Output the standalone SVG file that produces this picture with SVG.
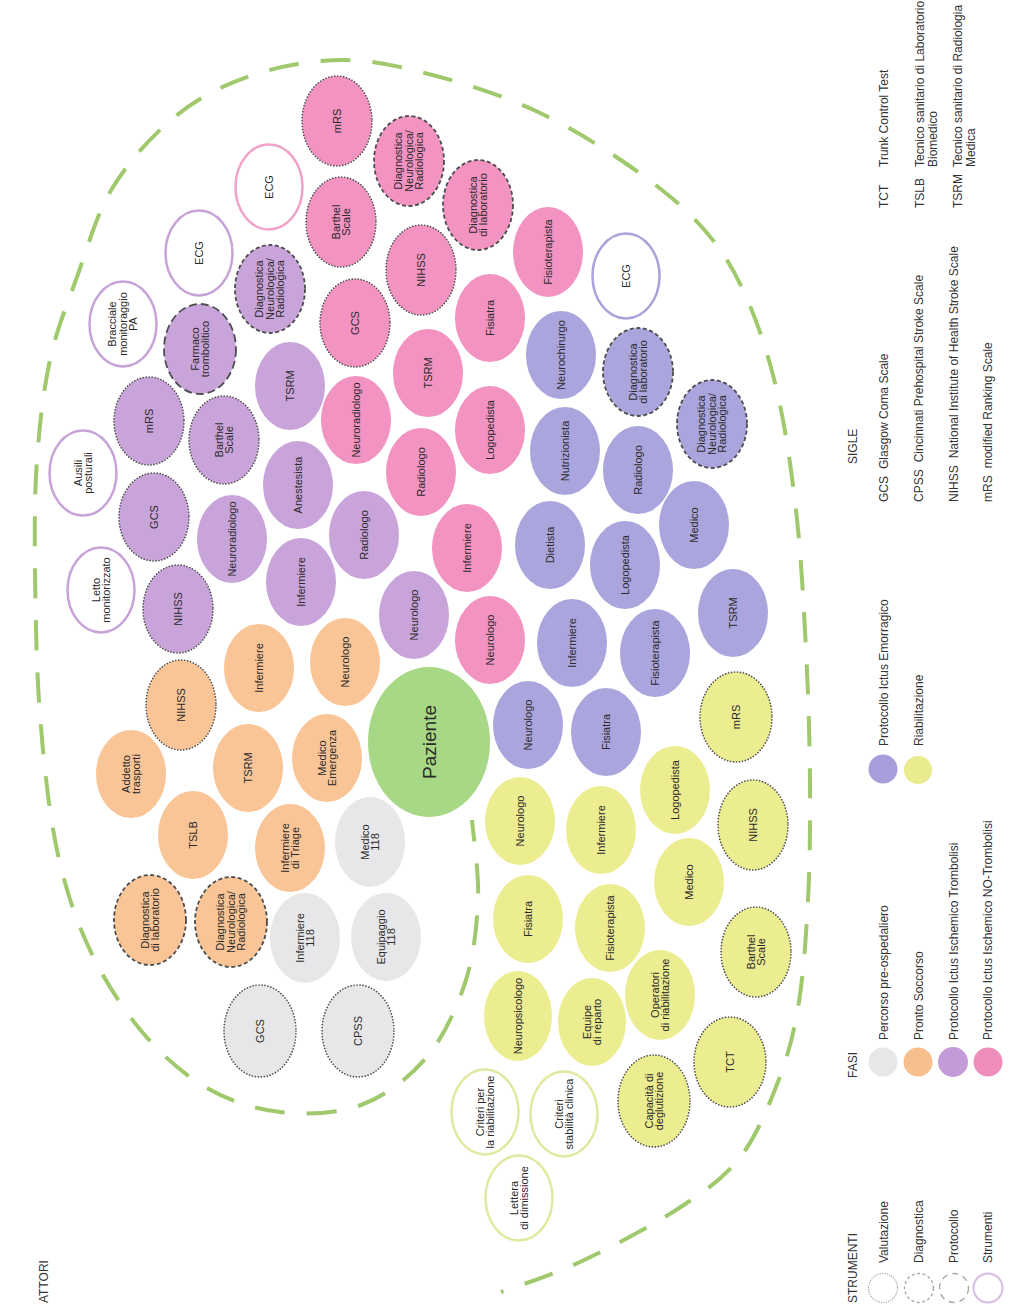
<svg xmlns="http://www.w3.org/2000/svg" width="1014" height="1306" viewBox="0 0 1014 1306">
<style>
  .lbl { font-family: "Liberation Sans", Arial, sans-serif; font-size: 11px; fill: #2a2a2a; text-anchor: middle; }
  .big { font-size: 19px; }
  .leg { font-family: "Liberation Sans", Arial, sans-serif; font-size: 12px; fill: #333; }
  .pk { fill: #f293c2; }
  .pu { fill: #c9a4da; }
  .lv { fill: #aba5de; }
  .or { fill: #f9c597; }
  .gr { fill: #e7e7e9; }
  .ye { fill: #ecec91; }
  .gn { fill: #a7d885; }
  .val { stroke: #4d4d4d; stroke-width: 1.7; stroke-dasharray: 0.01 3; stroke-linecap: round; }
  .dia { stroke: #4d4d4d; stroke-width: 1.8; stroke-dasharray: 4 2.6; }
  .pro { stroke: #4d4d4d; stroke-width: 1.8; stroke-dasharray: 8 4; }
  .out { fill: #ffffff; stroke-width: 2.5; }
  .o-pk { stroke: #f0a2c9; }
  .o-pu { stroke: #c8a3d9; }
  .o-lv { stroke: #a9a3dc; }
  .o-ye { stroke: #e2e89f; }
  .spiral { fill: none; stroke: #9fc96c; stroke-width: 4; stroke-dasharray: 30 22; stroke-dashoffset: 27; }
</style>

<rect width="1014" height="1306" fill="#ffffff"/>

<!-- dashed spiral boundary around the patient -->
<g id="boundary">
  <path class="spiral" d="M501,1292 C514.2,1287 550.8,1275.7 580,1262 S649.7,1227 676,1210 S721.3,1180.5 738,1160 S766,1112.3 776,1087 S792.7,1039.2 798,1008 S806,938 808,900 S810.3,821.7 810,780 S808.3,695 806,650 S801,553.8 796,510 S784.8,423.7 776,387 S755.7,317 743,290 S718.7,245.5 700,225 S658,185.8 631,167 S569.8,127 538,112 S472.2,85.7 440,77 S376.2,60.3 345,60 S281,65.8 253,75 S200.3,96.3 177,115 S129.7,160 113,187 S87.5,248.2 77,277 S56.7,329.5 50,360 S39.5,425 37,460 S34.5,527.5 35,570 S36.3,668.3 40,715 S48.7,810.8 57,850 S75.7,919.5 90,950 S123.5,1010 143,1033 S184.2,1074.8 207,1088 S254.3,1109.2 280,1112 S336.7,1114 361,1105 S408.7,1078.3 426,1058 S456.3,1009.3 465,983 S476.8,927.2 478,900 S473,833.3 472,820"/>
</g>

<!-- Protocollo Ictus Ischemico Trombolisi -->
<g id="p-nihss" transform="translate(178,609)"><ellipse class="pu val" rx="35" ry="44"/><text class="lbl" transform="rotate(-90)" y="3.8">NIHSS</text></g>
<g id="p-gcs" transform="translate(154,517)"><ellipse class="pu val" rx="35" ry="44"/><text class="lbl" transform="rotate(-90)" y="3.8">GCS</text></g>
<g id="p-mrs" transform="translate(149,421)"><ellipse class="pu val" rx="35" ry="44"/><text class="lbl" transform="rotate(-90)" y="3.8">mRS</text></g>
<g id="p-farmaco" transform="translate(200,349)"><ellipse class="pu pro" rx="36" ry="45"/><text class="lbl" transform="rotate(-90)"><tspan x="0" y="-1.45">Farmaco</tspan><tspan x="0" y="9.05">trombolitico</tspan></text></g>
<g id="p-diag" transform="translate(270,289)"><ellipse class="pu dia" rx="35" ry="44"/><text class="lbl" transform="rotate(-90)"><tspan x="0" y="-6.7">Diagnostica</tspan><tspan x="0" y="3.8">Neurologica/</tspan><tspan x="0" y="14.3">Radiologica</tspan></text></g>
<g id="p-ecg" transform="translate(199,253)"><ellipse class="out o-pu" rx="33.5" ry="42.5"/><text class="lbl" transform="rotate(-90)" y="3.8">ECG</text></g>
<g id="p-bracciale" transform="translate(123,324)"><ellipse class="out o-pu" rx="33.5" ry="42.5"/><text class="lbl" transform="rotate(-90)"><tspan x="0" y="-6.7">Bracciale</tspan><tspan x="0" y="3.8">monitoraggio</tspan><tspan x="0" y="14.3">PA</tspan></text></g>
<g id="p-ausili" transform="translate(83,473)"><ellipse class="out o-pu" rx="33.5" ry="42.5"/><text class="lbl" transform="rotate(-90)"><tspan x="0" y="-1.45">Ausili</tspan><tspan x="0" y="9.05">posturali</tspan></text></g>
<g id="p-letto" transform="translate(101,590)"><ellipse class="out o-pu" rx="33.5" ry="42.5"/><text class="lbl" transform="rotate(-90)"><tspan x="0" y="-1.45">Letto</tspan><tspan x="0" y="9.05">monitorizzato</tspan></text></g>
<g id="p-barthel" transform="translate(224,440)"><ellipse class="pu val" rx="35" ry="44"/><text class="lbl" transform="rotate(-90)"><tspan x="0" y="-1.45">Barthel</tspan><tspan x="0" y="9.05">Scale</tspan></text></g>
<g id="p-tsrm" transform="translate(290,386)"><ellipse class="pu" rx="35" ry="44"/><text class="lbl" transform="rotate(-90)" y="3.8">TSRM</text></g>
<g id="p-neurorad" transform="translate(232,539)"><ellipse class="pu" rx="35" ry="44"/><text class="lbl" transform="rotate(-90)" y="3.8">Neuroradiologo</text></g>
<g id="p-anest" transform="translate(298,485)"><ellipse class="pu" rx="35" ry="44"/><text class="lbl" transform="rotate(-90)" y="3.8">Anestesista</text></g>
<g id="p-inferm" transform="translate(301,582)"><ellipse class="pu" rx="35" ry="44"/><text class="lbl" transform="rotate(-90)" y="3.8">Infermiere</text></g>
<g id="p-radiol" transform="translate(364,535)"><ellipse class="pu" rx="35" ry="44"/><text class="lbl" transform="rotate(-90)" y="3.8">Radiologo</text></g>
<g id="p-neurol" transform="translate(414,615)"><ellipse class="pu" rx="35" ry="44"/><text class="lbl" transform="rotate(-90)" y="3.8">Neurologo</text></g>

<!-- Protocollo Ictus Ischemico NO-Trombolisi -->
<g id="k-mrs" transform="translate(337,121)"><ellipse class="pk val" rx="35" ry="45"/><text class="lbl" transform="rotate(-90)" y="3.8">mRS</text></g>
<g id="k-diagneuro" transform="translate(409,161)"><ellipse class="pk dia" rx="35" ry="45"/><text class="lbl" transform="rotate(-90)"><tspan x="0" y="-6.7">Diagnostica</tspan><tspan x="0" y="3.8">Neurologica/</tspan><tspan x="0" y="14.3">Radiologica</tspan></text></g>
<g id="k-barthel" transform="translate(341,222)"><ellipse class="pk val" rx="35" ry="45"/><text class="lbl" transform="rotate(-90)"><tspan x="0" y="-1.45">Barthel</tspan><tspan x="0" y="9.05">Scale</tspan></text></g>
<g id="k-diaglab" transform="translate(478,205)"><ellipse class="pk dia" rx="35" ry="45"/><text class="lbl" transform="rotate(-90)"><tspan x="0" y="-1.45">Diagnostica</tspan><tspan x="0" y="9.05">di laboratorio</tspan></text></g>
<g id="k-nihss" transform="translate(421,270)"><ellipse class="pk val" rx="35" ry="45"/><text class="lbl" transform="rotate(-90)" y="3.8">NIHSS</text></g>
<g id="k-fisiot" transform="translate(548,252)"><ellipse class="pk" rx="35" ry="45"/><text class="lbl" transform="rotate(-90)" y="3.8">Fisioterapista</text></g>
<g id="k-ecg" transform="translate(269,187)"><ellipse class="out o-pk" rx="33.5" ry="42.5"/><text class="lbl" transform="rotate(-90)" y="3.8">ECG</text></g>
<g id="k-gcs" transform="translate(355,323)"><ellipse class="pk val" rx="35" ry="44"/><text class="lbl" transform="rotate(-90)" y="3.8">GCS</text></g>
<g id="k-fisiatra" transform="translate(490,318)"><ellipse class="pk" rx="35" ry="44"/><text class="lbl" transform="rotate(-90)" y="3.8">Fisiatra</text></g>
<g id="k-tsrm" transform="translate(428,373)"><ellipse class="pk" rx="35" ry="44"/><text class="lbl" transform="rotate(-90)" y="3.8">TSRM</text></g>
<g id="k-neurorad" transform="translate(356,420)"><ellipse class="pk" rx="35" ry="44"/><text class="lbl" transform="rotate(-90)" y="3.8">Neuroradiologo</text></g>
<g id="k-logop" transform="translate(490,430)"><ellipse class="pk" rx="35" ry="44"/><text class="lbl" transform="rotate(-90)" y="3.8">Logopedista</text></g>
<g id="k-radiol" transform="translate(421,472)"><ellipse class="pk" rx="35" ry="44"/><text class="lbl" transform="rotate(-90)" y="3.8">Radiologo</text></g>
<g id="k-inferm" transform="translate(467,548)"><ellipse class="pk" rx="35" ry="44"/><text class="lbl" transform="rotate(-90)" y="3.8">Infermiere</text></g>
<g id="k-neurol" transform="translate(490,640)"><ellipse class="pk" rx="35" ry="44"/><text class="lbl" transform="rotate(-90)" y="3.8">Neurologo</text></g>

<!-- Protocollo Ictus Emorragico -->
<g id="l-neurochir" transform="translate(561,355)"><ellipse class="lv" rx="35" ry="44"/><text class="lbl" transform="rotate(-90)" y="3.8">Neurochirurgo</text></g>
<g id="l-diaglab" transform="translate(638,372)"><ellipse class="lv dia" rx="35" ry="44"/><text class="lbl" transform="rotate(-90)"><tspan x="0" y="-1.45">Diagnostica</tspan><tspan x="0" y="9.05">di laboratorio</tspan></text></g>
<g id="l-nutriz" transform="translate(565,451)"><ellipse class="lv" rx="35" ry="44"/><text class="lbl" transform="rotate(-90)" y="3.8">Nutrizionista</text></g>
<g id="l-radiol" transform="translate(638,470)"><ellipse class="lv" rx="35" ry="44"/><text class="lbl" transform="rotate(-90)" y="3.8">Radiologo</text></g>
<g id="l-dietista" transform="translate(550,545)"><ellipse class="lv" rx="35" ry="44"/><text class="lbl" transform="rotate(-90)" y="3.8">Dietista</text></g>
<g id="l-logop" transform="translate(625,565)"><ellipse class="lv" rx="35" ry="44"/><text class="lbl" transform="rotate(-90)" y="3.8">Logopedista</text></g>
<g id="l-medico" transform="translate(694,525)"><ellipse class="lv" rx="35" ry="44"/><text class="lbl" transform="rotate(-90)" y="3.8">Medico</text></g>
<g id="l-diagneuro" transform="translate(712,424)"><ellipse class="lv dia" rx="35" ry="44"/><text class="lbl" transform="rotate(-90)"><tspan x="0" y="-6.7">Diagnostica</tspan><tspan x="0" y="3.8">Neurologica/</tspan><tspan x="0" y="14.3">Radiologica</tspan></text></g>
<g id="l-tsrm" transform="translate(733,613)"><ellipse class="lv" rx="35" ry="44"/><text class="lbl" transform="rotate(-90)" y="3.8">TSRM</text></g>
<g id="l-ecg" transform="translate(626,276)"><ellipse class="out o-lv" rx="33.5" ry="42.5"/><text class="lbl" transform="rotate(-90)" y="3.8">ECG</text></g>
<g id="l-inferm" transform="translate(572,643)"><ellipse class="lv" rx="35" ry="44"/><text class="lbl" transform="rotate(-90)" y="3.8">Infermiere</text></g>
<g id="l-fisiot" transform="translate(655,653)"><ellipse class="lv" rx="35" ry="44"/><text class="lbl" transform="rotate(-90)" y="3.8">Fisioterapista</text></g>
<g id="l-neurol" transform="translate(528,725)"><ellipse class="lv" rx="35" ry="44"/><text class="lbl" transform="rotate(-90)" y="3.8">Neurologo</text></g>
<g id="l-fisiatra" transform="translate(606,732)"><ellipse class="lv" rx="35" ry="44"/><text class="lbl" transform="rotate(-90)" y="3.8">Fisiatra</text></g>

<!-- Pronto Soccorso -->
<g id="o-nihss" transform="translate(181,705)"><ellipse class="or val" rx="35" ry="45"/><text class="lbl" transform="rotate(-90)" y="3.8">NIHSS</text></g>
<g id="o-inferm" transform="translate(259,668)"><ellipse class="or" rx="35" ry="44"/><text class="lbl" transform="rotate(-90)" y="3.8">Infermiere</text></g>
<g id="o-neurol" transform="translate(345,662)"><ellipse class="or" rx="35" ry="44"/><text class="lbl" transform="rotate(-90)" y="3.8">Neurologo</text></g>
<g id="o-addetto" transform="translate(131,774)"><ellipse class="or" rx="35" ry="44"/><text class="lbl" transform="rotate(-90)"><tspan x="0" y="-1.45">Addetto</tspan><tspan x="0" y="9.05">trasporti</tspan></text></g>
<g id="o-tsrm" transform="translate(248,768)"><ellipse class="or" rx="35" ry="44"/><text class="lbl" transform="rotate(-90)" y="3.8">TSRM</text></g>
<g id="o-medemerg" transform="translate(327,758)"><ellipse class="or" rx="35" ry="44"/><text class="lbl" transform="rotate(-90)"><tspan x="0" y="-1.45">Medico</tspan><tspan x="0" y="9.05">Emergenza</tspan></text></g>
<g id="o-tslb" transform="translate(193,835)"><ellipse class="or" rx="35" ry="44"/><text class="lbl" transform="rotate(-90)" y="3.8">TSLB</text></g>
<g id="o-triage" transform="translate(290,848)"><ellipse class="or" rx="35" ry="44"/><text class="lbl" transform="rotate(-90)"><tspan x="0" y="-1.45">Infermiere</tspan><tspan x="0" y="9.05">di Triage</tspan></text></g>
<g id="o-diaglab" transform="translate(150,920)"><ellipse class="or dia" rx="36" ry="45"/><text class="lbl" transform="rotate(-90)"><tspan x="0" y="-1.45">Diagnostica</tspan><tspan x="0" y="9.05">di laboratorio</tspan></text></g>
<g id="o-diagneuro" transform="translate(231,922)"><ellipse class="or dia" rx="36" ry="45"/><text class="lbl" transform="rotate(-90)"><tspan x="0" y="-6.7">Diagnostica</tspan><tspan x="0" y="3.8">Neurologica/</tspan><tspan x="0" y="14.3">Radiologica</tspan></text></g>

<!-- Percorso pre-ospedaliero -->
<g id="g-medico" transform="translate(370,842)"><ellipse class="gr" rx="35" ry="45"/><text class="lbl" transform="rotate(-90)"><tspan x="0" y="-1.45">Medico</tspan><tspan x="0" y="9.05">118</tspan></text></g>
<g id="g-inferm" transform="translate(305,938)"><ellipse class="gr" rx="35" ry="45"/><text class="lbl" transform="rotate(-90)"><tspan x="0" y="-1.45">Infermiere</tspan><tspan x="0" y="9.05">118</tspan></text></g>
<g id="g-equip" transform="translate(386,937)"><ellipse class="gr" rx="35" ry="44"/><text class="lbl" transform="rotate(-90)"><tspan x="0" y="-1.45">Equipaggio</tspan><tspan x="0" y="9.05">118</tspan></text></g>
<g id="g-gcs" transform="translate(260,1031)"><ellipse class="gr val" rx="36" ry="46"/><text class="lbl" transform="rotate(-90)" y="3.8">GCS</text></g>
<g id="g-cpss" transform="translate(358,1031)"><ellipse class="gr val" rx="36" ry="46"/><text class="lbl" transform="rotate(-90)" y="3.8">CPSS</text></g>

<!-- Paziente -->
<g id="paziente" transform="translate(429,742)"><ellipse class="gn" rx="61" ry="75"/><text class="lbl big" transform="rotate(-90)" y="6.8">Paziente</text></g>

<!-- Riabilitazione -->
<g id="y-mrs" transform="translate(736,717)"><ellipse class="ye val" rx="36" ry="45"/><text class="lbl" transform="rotate(-90)" y="3.8">mRS</text></g>
<g id="y-neurol" transform="translate(520,821)"><ellipse class="ye" rx="35" ry="44"/><text class="lbl" transform="rotate(-90)" y="3.8">Neurologo</text></g>
<g id="y-inferm" transform="translate(601,830)"><ellipse class="ye" rx="35" ry="44"/><text class="lbl" transform="rotate(-90)" y="3.8">Infermiere</text></g>
<g id="y-logop" transform="translate(675,790)"><ellipse class="ye" rx="35" ry="44"/><text class="lbl" transform="rotate(-90)" y="3.8">Logopedista</text></g>
<g id="y-nihss" transform="translate(753,825)"><ellipse class="ye val" rx="35" ry="45"/><text class="lbl" transform="rotate(-90)" y="3.8">NIHSS</text></g>
<g id="y-fisiatra" transform="translate(528,919)"><ellipse class="ye" rx="35" ry="44"/><text class="lbl" transform="rotate(-90)" y="3.8">Fisiatra</text></g>
<g id="y-fisiot" transform="translate(610,928)"><ellipse class="ye" rx="35" ry="44"/><text class="lbl" transform="rotate(-90)" y="3.8">Fisioterapista</text></g>
<g id="y-medico" transform="translate(689,882)"><ellipse class="ye" rx="35" ry="44"/><text class="lbl" transform="rotate(-90)" y="3.8">Medico</text></g>
<g id="y-barthel" transform="translate(756,952)"><ellipse class="ye val" rx="35" ry="45"/><text class="lbl" transform="rotate(-90)"><tspan x="0" y="-1.45">Barthel</tspan><tspan x="0" y="9.05">Scale</tspan></text></g>
<g id="y-neuropsi" transform="translate(518,1016)"><ellipse class="ye" rx="34" ry="45"/><text class="lbl" transform="rotate(-90)" y="3.8">Neuropsicologo</text></g>
<g id="y-equipe" transform="translate(592,1022)"><ellipse class="ye" rx="34" ry="44"/><text class="lbl" transform="rotate(-90)"><tspan x="0" y="-1.45">Equipe</tspan><tspan x="0" y="9.05">di reparto</tspan></text></g>
<g id="y-operat" transform="translate(660,995)"><ellipse class="ye" rx="35" ry="45"/><text class="lbl" transform="rotate(-90)"><tspan x="0" y="-1.45">Operatori</tspan><tspan x="0" y="9.05">di riabilitazione</tspan></text></g>
<g id="y-capac" transform="translate(654,1101)"><ellipse class="ye val" rx="36" ry="46"/><text class="lbl" transform="rotate(-90)"><tspan x="0" y="-1.45">Capacità di</tspan><tspan x="0" y="9.05">deglutizione</tspan></text></g>
<g id="y-tct" transform="translate(730,1062)"><ellipse class="ye val" rx="36" ry="45"/><text class="lbl" transform="rotate(-90)" y="3.8">TCT</text></g>
<g id="y-criteri-riab" transform="translate(485,1112)"><ellipse class="out o-ye" rx="33.5" ry="42.5"/><text class="lbl" transform="rotate(-90)"><tspan x="0" y="-1.45">Criteri per</tspan><tspan x="0" y="9.05">la riabilitazione</tspan></text></g>
<g id="y-criteri-stab" transform="translate(564,1114)"><ellipse class="out o-ye" rx="33.5" ry="42.5"/><text class="lbl" transform="rotate(-90)"><tspan x="0" y="-1.45">Criteri</tspan><tspan x="0" y="9.05">stabilità clinica</tspan></text></g>
<g id="y-lettera" transform="translate(519,1198)"><ellipse class="out o-ye" rx="33.5" ry="42.5"/><text class="lbl" transform="rotate(-90)"><tspan x="0" y="-1.45">Lettera</tspan><tspan x="0" y="9.05">di dimissione</tspan></text></g>

<!-- headings -->
<g id="headings">
  <text class="leg" transform="translate(48,1303) rotate(-90)">ATTORI</text>
  <text class="leg" transform="translate(857,1303) rotate(-90)">STRUMENTI</text>
  <text class="leg" transform="translate(857,1078) rotate(-90)">FASI</text>
  <text class="leg" transform="translate(857,464) rotate(-90)">SIGLE</text>
</g>

<!-- legend: strumenti -->
<g id="legend-strumenti">
  <circle cx="883" cy="1288" r="14.5" fill="none" stroke="#a8a8a8" stroke-width="1.4" stroke-dasharray="0.01 2.4" stroke-linecap="round"/>
  <circle cx="919" cy="1288" r="14.5" fill="none" stroke="#a8a8a8" stroke-width="1.4" stroke-dasharray="3 2.5"/>
  <circle cx="954" cy="1288" r="14.5" fill="none" stroke="#a8a8a8" stroke-width="1.4" stroke-dasharray="6 5"/>
  <circle cx="988" cy="1288" r="14.5" fill="none" stroke="#d9bae3" stroke-width="2"/>
  <text class="leg" transform="translate(888,1263) rotate(-90)">Valutazione</text>
  <text class="leg" transform="translate(923,1263) rotate(-90)">Diagnostica</text>
  <text class="leg" transform="translate(958,1263) rotate(-90)">Protocollo</text>
  <text class="leg" transform="translate(992,1263) rotate(-90)">Strumenti</text>
</g>

<!-- legend: fasi -->
<g id="legend-fasi">
  <circle cx="883" cy="1062" r="14.5" class="gr"/>
  <circle cx="918" cy="1062" r="14.5" fill="#f7bf8e"/>
  <circle cx="953" cy="1062" r="15" fill="#c49bd9"/>
  <circle cx="988" cy="1062" r="14.5" fill="#ef8dbd"/>
  <text class="leg" transform="translate(888,1040) rotate(-90)">Percorso pre-ospedaliero</text>
  <text class="leg" transform="translate(923,1040) rotate(-90)">Pronto Soccorso</text>
  <text class="leg" transform="translate(958,1040) rotate(-90)">Protocollo Ictus Ischemico Trombolisi</text>
  <text class="leg" transform="translate(992,1040) rotate(-90)">Protocollo Ictus Ischemico NO-Trombolisi</text>
  <circle cx="883" cy="769" r="14.5" fill="#a69ddb"/>
  <circle cx="918" cy="770" r="14" fill="#eaea8e"/>
  <text class="leg" transform="translate(888,746) rotate(-90)">Protocollo Ictus Emorragico</text>
  <text class="leg" transform="translate(923,746) rotate(-90)">Riabilitazione</text>
</g>

<!-- legend: sigle -->
<g id="legend-sigle">
  <text class="leg" transform="translate(888,502) rotate(-90)">GCS<tspan dx="7">Glasgow Coma Scale</tspan></text>
  <text class="leg" transform="translate(923,502) rotate(-90)">CPSS<tspan dx="7">Cincinnati Prehospital Stroke Scale</tspan></text>
  <text class="leg" transform="translate(958,502) rotate(-90)">NIHSS<tspan dx="7">National Institute of Health Stroke Scale</tspan></text>
  <text class="leg" transform="translate(992,502) rotate(-90)">mRS<tspan dx="7">modified Ranking Scale</tspan></text>
  <text class="leg" transform="translate(888,208) rotate(-90)">TCT</text>
  <text class="leg" transform="translate(888,167) rotate(-90)">Trunk Control Test</text>
  <text class="leg" transform="translate(924,208) rotate(-90)">TSLB</text>
  <text class="leg" transform="translate(924,167) rotate(-90)">Tecnico sanitario di Laboratorio</text>
  <text class="leg" transform="translate(937,167) rotate(-90)">Biomedico</text>
  <text class="leg" transform="translate(962,208) rotate(-90)">TSRM</text>
  <text class="leg" transform="translate(962,167) rotate(-90)">Tecnico sanitario di Radiologia</text>
  <text class="leg" transform="translate(975,167) rotate(-90)">Medica</text>
</g>
</svg>
